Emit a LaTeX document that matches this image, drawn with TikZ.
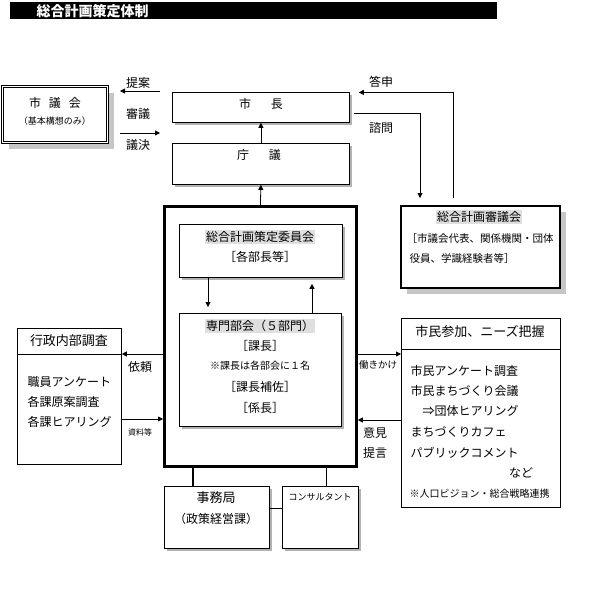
\documentclass[tikz,border=0pt]{standalone}
\usepackage{fontspec}
\newfontfamily\cjk{Noto Sans CJK JP}
\usetikzlibrary{arrows.meta, shadows}
\newcommand{\fsz}[1]{\fontsize{#1pt}{#1pt}\selectfont}
\tikzset{plainbox/.style={draw,line width=0.8pt,inner sep=0pt,fill=white}}
\tikzset{shadbox/.style={plainbox,drop shadow={shadow xshift=3pt,shadow yshift=-3pt,fill=gray!60,opacity=1}}}
\tikzset{hilite/.style={fill=gray!25,inner sep=1pt}}
\tikzset{arr/.style={-{Triangle[length=5pt,width=5pt]},line width=0.8pt}}

\begin{document}
\begin{tikzpicture}[x=1pt,y=-1pt,font=\cjk\fsz{12}] % pixel grid, y runs down
  \useasboundingbox (0,0) rectangle (594,600);

  % title bar
  \node (titlebar) [fill=black,inner sep=0pt,minimum width=487,minimum height=17,anchor=north west] at (10,2) {};
  \node (title) [text=white,anchor=west,font=\cjk\bfseries\fsz{14}] at (33,11) {総合計画策定体制};

  % boxes
  \node (shigikai) [plainbox,double,double distance=1.5pt,drop shadow={shadow xshift=7pt,shadow yshift=-7pt,fill=gray!45,opacity=1},minimum width=105,minimum height=56,anchor=north west] at (2,86) {};
  \node (shicho) [shadbox,minimum width=177,minimum height=30,anchor=north west] at (172,92) {};
  \node (chogi) [shadbox,minimum width=177,minimum height=41,anchor=north west] at (172,143) {};
  \node (honbu) [plainbox,line width=2.8pt,minimum width=192,minimum height=260,anchor=north west] at (163,205) {};
  \node (iinkai) [shadbox,minimum width=163,minimum height=53,anchor=north west] at (179,224) {};
  \node (bukai) [shadbox,minimum width=162,minimum height=113,anchor=north west] at (179,313) {};
  \node (gyosei) [plainbox,minimum width=104,minimum height=136,anchor=north west] at (17,328) {};
  \node (shimin) [plainbox,minimum width=159,minimum height=189,anchor=north west] at (401,318) {};
  \node (shingikai) [plainbox,line width=2pt,drop shadow={shadow xshift=6pt,shadow yshift=-6pt,fill=gray!45,opacity=1},minimum width=159,minimum height=82,anchor=north west] at (400,205) {};
  \node (jimukyoku) [shadbox,minimum width=105,minimum height=62,anchor=north west] at (164,486) {};
  \node (consul) [shadbox,minimum width=76,minimum height=62,anchor=north west] at (282,486) {};

  \draw[line width=0.8pt] ([yshift=-26pt]gyosei.north west) -- ([yshift=-26pt]gyosei.north east);
  \draw[line width=0.8pt] ([yshift=-31pt]shimin.north west) -- ([yshift=-31pt]shimin.north east);

  % texts
  \node (shigikaiT) at (55,103) {市\hspace{8pt}議\hspace{8pt}会};
  \node (shigikaiS) [font=\cjk\fsz{9}] at (55,121) {（基本構想のみ）};
  \node (shichoT) at (261,104) {市\hspace{20pt}長};
  \node (chogiT) at (259,155) {庁\hspace{20pt}議};
  \node (teianT) at (138,83) {提案};
  \node (shingiT) at (138,114) {審議};
  \node (gikketsuT) at (138,145) {議決};
  \node (toshinT) at (381,82) {答申};
  \node (shimonT) at (381,128) {諮問};

  \node (shingikaiT) [hilite] at (479,217) {総合計画審議会};
  \node (shingikaiA) [anchor=west,font=\cjk\fsz{10.5}] at (403,239) {［市議会代表、関係機関・団体};
  \node (shingikaiB) [anchor=west,font=\cjk\fsz{10.5}] at (406,259) {役員、学識経験者等］};

  \node (iinkaiT) [hilite] at (260,237) {総合計画策定委員会};
  \node (iinkaiS) at (260,257) {［各部長等］};
  \node (bukaiT) [hilite] at (260,326) {専門部会（５部門）};
  \node (kachoT) at (260,346) {［課長］};
  \node (kachoN) [font=\cjk\fsz{10}] at (260,366) {※課長は各部会に１名};
  \node (hosaT) at (260,387) {［課長補佐］};
  \node (kakariT) at (260,408) {［係長］};

  \node (gyoseiT) [font=\cjk\fsz{13}] at (69,341) {行政内部調査};
  \node (gyoseiA) [anchor=west] at (24,382) {職員アンケート};
  \node (gyoseiB) [anchor=west] at (24,402) {各課原案調査};
  \node (gyoseiC) [anchor=west] at (24,422) {各課ヒアリング};
  \node (iraiT) at (140,367) {依頼};
  \node (shiryoT) [font=\cjk\fsz{8}] at (140,432) {資料等};

  \node (shiminT) [font=\cjk\fsz{13}] at (480,332) {市民参加、ニーズ把握};
  \node (shiminA) [anchor=west] at (407,371) {市民アンケート調査};
  \node (shiminB) [anchor=west] at (407,391) {市民まちづくり会議};
  \node (shiminC) [anchor=west] at (419,411) {⇒団体ヒアリング};
  \node (shiminD) [anchor=west] at (407,432) {まちづくりカフェ};
  \node (shiminE) [anchor=west] at (407,453) {パブリックコメント};
  \node (shiminF) at (521,473) {など};
  \node (shiminG) [anchor=west,font=\cjk\fsz{10}] at (406,494) {※人口ビジョン・総合戦略連携};
  \node (hatarakiT) [font=\cjk\fsz{9.5}] at (378,365) {働きかけ};
  \node (ikenT) at (375,433) {意見};
  \node (teigenT) at (375,453) {提言};

  \node (jimukyokuT) [font=\cjk\fsz{13}] at (216,498) {事務局};
  \node (jimukyokuS) at (216,519) {（政策経営課）};
  \node (consulT) [font=\cjk\fsz{9}] at (320,497) {コンサルタント};

  % connectors
  \coordinate (teianA) at (160,91);
  \coordinate (teianB) at (120,91);
  \coordinate (gikketsuA) at (120,133);
  \coordinate (gikketsuB) at (160,133);
  \draw[arr] (teianA) -- (teianB);
  \draw[arr] (gikketsuA) -- (gikketsuB);

  \draw[arr] (chogi.north) -- (shicho.south);
  \draw[arr] (honbu.north) -- (chogi.south);
  \draw[arr,shorten >=7pt] ([xshift=4pt,yshift=-6pt]shicho.east) -| ([xshift=20pt]shingikai.north west);
  \draw[arr] ([xshift=53pt,yshift=7pt]shingikai.north west) |- ([xshift=9pt,yshift=15pt]shicho.east);

  \draw[arr,shorten >=6pt] ([xshift=29pt]iinkai.south west) -- ([xshift=29pt]iinkai.south west |- bukai.north);
  \draw[arr,shorten >=6pt] ([xshift=133pt]bukai.north west) -- ([xshift=133pt]bukai.north west |- iinkai.south);

  \coordinate (iraiR) at ([yshift=-26pt]gyosei.north east);
  \coordinate (shiryoL) at ([yshift=-91pt]gyosei.north east);
  \draw[arr] (honbu.west |- iraiR) -- (iraiR);
  \draw[arr] (shiryoL) -- (honbu.west |- shiryoL);

  \coordinate (hatarakiR) at ([yshift=-36pt]shimin.north west);
  \coordinate (ikenR) at ([yshift=-102pt]shimin.north west);
  \draw[arr] (honbu.east |- hatarakiR) -- (hatarakiR);
  \draw[arr] (ikenR) -- (honbu.east |- ikenR);

  \draw[line width=1.2pt] ([xshift=30pt]honbu.south west) -- ([xshift=30pt]honbu.south west |- jimukyoku.north);
  \draw[line width=0.8pt] ([xshift=163pt]honbu.south west) -- ([xshift=163pt]honbu.south west |- consul.north);
  \draw[line width=1.2pt] ([yshift=9pt]jimukyoku.east) -- ([yshift=9pt]consul.west);
\end{tikzpicture}
\end{document}
